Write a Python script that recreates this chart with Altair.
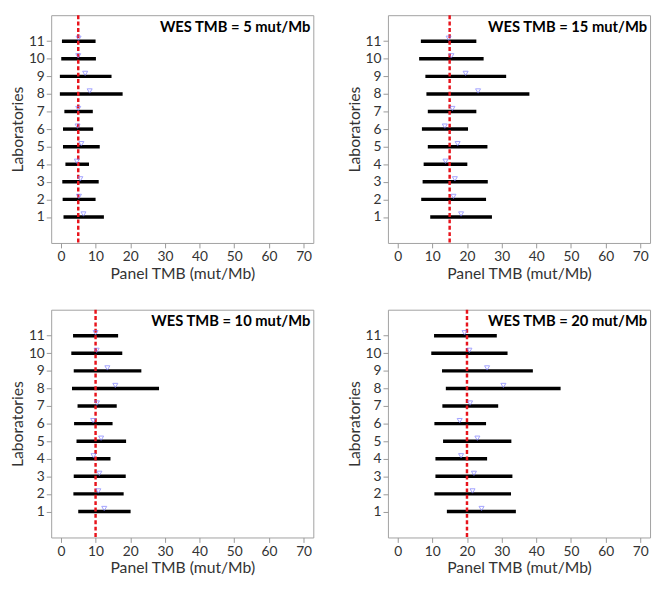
import altair as alt
import pandas as pd

labs = list(range(1, 12))

# panel WES TMB = 5
low5 = [0.75, 0.5, 0.4, 1.3, 0.6, 0.6, 1.0, -0.3, -0.3, 0.1, 0.3]
high5 = [12.4, 10.0, 10.9, 8.1, 11.2, 9.3, 9.2, 17.8, 14.6, 10.1, 10.0]
mid5 = [6.5, 5.2, 5.6, 4.6, 5.9, 4.8, 5.0, 8.3, 7.0, 5.0, 5.1]

# panel WES TMB = 15
low15 = [9.4, 6.8, 7.2, 7.5, 8.7, 7.0, 8.7, 8.3, 8.0, 6.2, 6.7]
high15 = [27.2, 25.5, 26.0, 20.1, 25.9, 20.3, 22.7, 38.0, 31.3, 24.8, 22.7]
mid15 = [18.3, 16.1, 16.5, 13.8, 17.3, 13.6, 15.8, 23.2, 19.6, 15.5, 14.7]

# panel WES TMB = 10
low10 = [5.0, 3.6, 3.7, 4.4, 4.5, 3.8, 4.8, 3.2, 3.7, 3.0, 3.5]
high10 = [20.1, 18.1, 18.7, 14.3, 18.8, 14.9, 16.1, 28.3, 23.2, 17.7, 16.5]
mid10 = [12.5, 10.8, 11.1, 9.4, 11.6, 9.3, 10.4, 15.7, 13.4, 10.3, 10.0]

# panel WES TMB = 20
low20 = [14.2, 10.6, 10.9, 10.9, 13.1, 10.6, 12.9, 13.9, 12.8, 9.7, 10.5]
high20 = [34.1, 32.7, 33.1, 25.8, 32.8, 25.5, 29.0, 47.0, 39.0, 31.7, 28.6]
mid20 = [24.2, 21.6, 22.0, 18.3, 23.0, 17.9, 20.9, 30.5, 25.8, 20.7, 19.3]

xticks = [0, 10, 20, 30, 40, 50, 60, 70]

# order: top-left, top-right, bottom-left, bottom-right
panels = [
    (5, low5, high5, mid5),
    (15, low15, high15, mid15),
    (10, low10, high10, mid10),
    (20, low20, high20, mid20),
]

W = 267
H = 232
FONT = "Lato"

xscale = alt.Scale(domain=[-2.8, 72.8], nice=False, zero=False)
yscale = alt.Scale(domain=[-0.48, 12.48], nice=False, zero=False)

xaxis = alt.Axis(values=xticks, title="Panel TMB (mut/Mb)",
                 tickSize=5, labelPadding=2, titlePadding=2, labelOverlap=False)
yaxis = alt.Axis(values=labs, title="Laboratories", tickSize=5, labelPadding=2,
                 titlePadding=3, labelOverlap=False)


def make_panel(wes, lo, hi, mi):
    df = pd.DataFrame({"lab": labs, "low": lo, "high": hi, "mid": mi})
    base = alt.Chart(df)
    lines = base.mark_rule(color="black", strokeWidth=3.5).encode(
        x=alt.X("low:Q", scale=xscale, axis=xaxis),
        x2="high:Q",
        y=alt.Y("lab:Q", scale=yscale, axis=yaxis),
    )
    red = alt.Chart(pd.DataFrame({"wes": [wes]})).mark_rule(
        color="#e8141c", strokeDash=[4, 2.5], strokeWidth=2.5
    ).encode(x=alt.X("wes:Q", scale=xscale, axis=xaxis))
    tri = base.mark_point(
        shape="triangle-down", color="#7b7bff", size=26, strokeWidth=1,
        filled=False, yOffset=-3
    ).encode(
        x=alt.X("mid:Q", scale=xscale, axis=xaxis),
        y=alt.Y("lab:Q", scale=yscale, axis=yaxis),
    )
    title = alt.Chart(pd.DataFrame({"t": [f"WES TMB = {wes} mut/Mb"]})).mark_text(
        align="right", baseline="middle", font=FONT, fontSize=15,
        fontWeight="bold", color="black"
    ).encode(x=alt.value(W - 3), y=alt.value(12), text="t:N")
    return alt.layer(lines, red, tri, title).properties(width=W, height=H)


charts = [make_panel(*p) for p in panels]

chart = alt.concat(
    *charts,
    columns=2,
    spacing={"row": 68, "column": 76},
    bounds="flush",
).properties(
    padding={"left": 1, "top": 0, "right": 2, "bottom": 0}
).configure_view(
    stroke="#a0a0a0", strokeWidth=1
).configure_axis(
    domain=False, grid=False, tickColor="#999999", tickWidth=1,
    labelFont=FONT, labelFontSize=14, labelColor="#333333",
    titleFont=FONT, titleFontSize=16, titleFontWeight="normal", titleColor="#333333",
)

chart.save("out.html", embed_options={"renderer": "svg", "actions": False})
